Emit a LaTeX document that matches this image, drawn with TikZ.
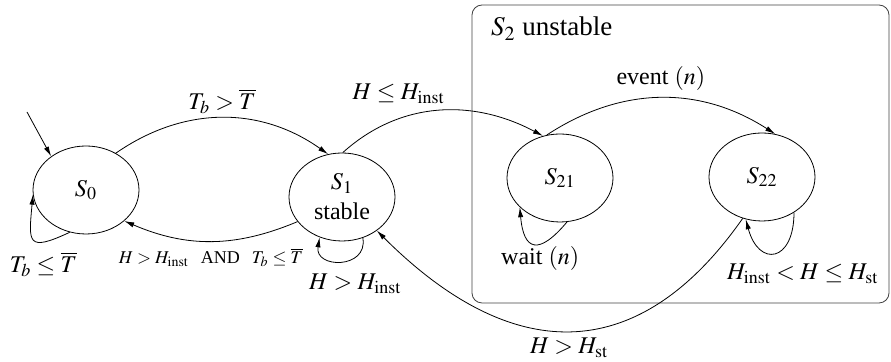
\documentclass[tikz,border=0pt]{standalone}
\usepackage{mathptmx}
\usepackage[no-math]{fontspec}
\setmainfont{Liberation Serif}
\usetikzlibrary{arrows.meta,positioning,shapes.geometric}

\tikzset{
  statenode/.style={draw,ellipse,minimum width=53pt,minimum height=44pt,inner sep=0pt},
  trans/.style={-{Latex[length=5pt,width=2.6pt]}},
  smalllabel/.style={font=\fontsize{9}{10}\selectfont}
}

\begin{document}
\begin{tikzpicture}[x=0.5pt,y=-0.5pt,font=\fontsize{12}{14}\selectfont]
\useasboundingbox (0,0) rectangle (891,362);

% unstable super-state
\node[draw=black!75,rounded corners=5pt,minimum width=208.5pt,minimum height=149pt] (s2) at (680.5,154) {};
\node[anchor=base west,font=\fontsize{13.5}{15}\selectfont] (s2lab) at (484,36) {$S_2$ unstable};

% states
\node[statenode] (s0) at (86,190) {$S_0$};
\node[statenode,align=center] (s1) at (342,197) {$S_1$\\[1pt]stable};
\node[statenode] (s21) at (560,178) {$S_{21}$};
\node[statenode] (s22) at (762,177) {$S_{22}$};

% initial arrow
\coordinate (init) at (27,112);
\draw[trans] (init) -- (s0.136);

% transitions
\draw[trans] (s0.51) to[bend left=35] node[above,inner sep=2pt] {$T_b > \overline{T}$} (s1.108);
\draw[trans] (s1.209) to[bend left=23] node[below,smalllabel] {$H > H_{\mathrm{inst}}$\hspace{6pt}AND\hspace{6pt}$T_b \le \overline{T}$} (s0.321);
\draw[trans] (s0.249) to[out=205,in=-95,distance=24pt] node[pos=0.5,below=3pt,xshift=5pt] {$T_b \le \overline{T}$} (s0.185);
\draw[trans] (s1.-63) to[out=-80,in=-100,distance=16pt] node[below=3pt,xshift=7pt] {$H > H_{\mathrm{inst}}$} (s1.241);
\draw[trans] (s1.89) to[out=42,in=152] node[pos=0.3,above=4pt] {$H \le H_{\mathrm{inst}}$} (s21.112);
\draw[trans] (s21.107) to[bend left=33] node[above] {event $(n)$} (s22.73);
\draw[trans] (s21.-81) to[out=-130,in=-85,distance=22pt] node[below,inner sep=1pt,xshift=3pt] {wait $(n)$} (s21.216);
\draw[trans] (s22.-48) to[out=-90,in=-75,distance=25pt] node[below=2pt,xshift=14pt] {$H_{\mathrm{inst}} < H \le H_{\mathrm{st}}$} (s22.249);
\draw[trans] (s22.245) to[out=-125,in=-45,looseness=1.3] node[below] {$H > H_{\mathrm{st}}$} (s1.-44);
\end{tikzpicture}
\end{document}
